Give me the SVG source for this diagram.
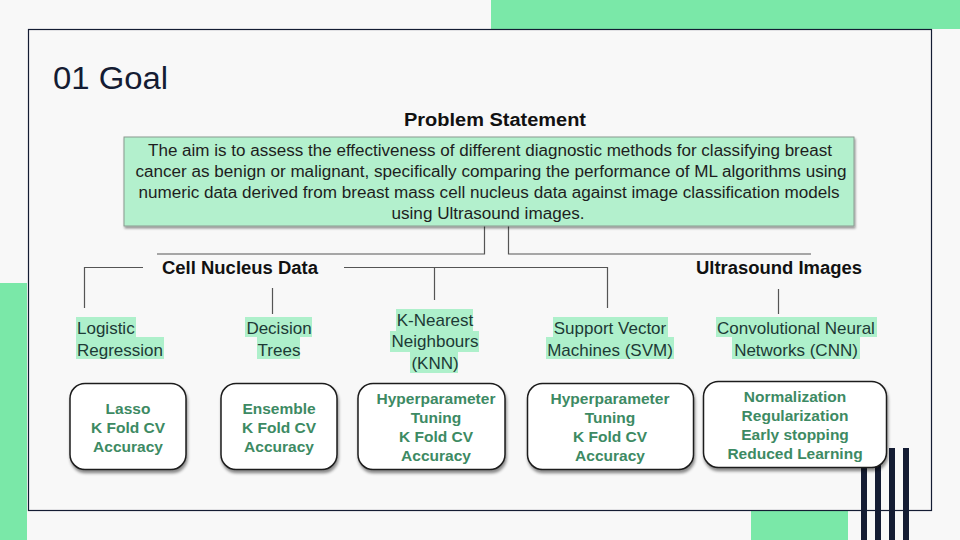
<svg xmlns="http://www.w3.org/2000/svg" width="960" height="540" viewBox="0 0 960 540">
<defs>
<filter id="sh" x="-10%" y="-10%" width="130%" height="140%">
<feDropShadow dx="1" dy="3" stdDeviation="1.5" flood-color="#000" flood-opacity="0.45"/>
</filter>
<filter id="sh2" x="-5%" y="-10%" width="110%" height="130%">
<feDropShadow dx="1" dy="2" stdDeviation="1" flood-color="#000" flood-opacity="0.4"/>
</filter>
</defs>
<style>
.sans{font-family:"Liberation Sans",Arial,sans-serif}
.title{font-family:"Liberation Sans",Arial,sans-serif;font-size:31px;fill:#141c33}
.head{font-family:"Liberation Sans",Arial,sans-serif;font-size:18px;font-weight:bold;fill:#111;text-anchor:middle}
.ps{font-family:"Liberation Sans",Arial,sans-serif;font-size:16px;fill:#1e1e1e;text-anchor:middle}
.lbl{font-family:"Liberation Sans",Arial,sans-serif;font-size:17px;fill:#1d3a36}
.mid{text-anchor:middle}
.hl{fill:#aef0cb}
.box{fill:#ffffff;stroke:#1c1c1c;stroke-width:1.5}
.bt{font-family:"Liberation Sans",Arial,sans-serif;font-size:15.5px;font-weight:bold;fill:#3d8a63;text-anchor:middle}
.con{fill:none;stroke:#555;stroke-width:1.2}
.bar{fill:#141c33}
</style>
<rect x="0" y="0" width="960" height="540" fill="#f8f8f8"/>
<rect x="491" y="0" width="469" height="29" fill="#7ae8a8"/>
<rect x="0" y="283" width="27" height="257" fill="#7ae8a8"/>
<rect x="751" y="511" width="97" height="29" fill="#7ae8a8"/>
<rect x="28.5" y="29.5" width="903" height="481" fill="none" stroke="#141c33" stroke-width="1.2"/>
<g id="bars">
<rect class="bar" x="861" y="448" width="6" height="92"/>
<rect class="bar" x="875" y="448" width="6" height="92"/>
<rect class="bar" x="889" y="448" width="6" height="92"/>
<rect class="bar" x="903" y="448" width="6" height="92"/>
</g>
<text class="title" x="53" y="89" textLength="115" lengthAdjust="spacingAndGlyphs">01 Goal</text>

<g id="connectors">
<path class="con" d="M484.5 226 V254 H157"/>
<path class="con" d="M508.5 226 V254 H811"/>
<path class="con" d="M143 267.5 H84.5 V308"/>
<path class="con" d="M344 267.5 H607.5 V308"/>
<path class="con" d="M434.5 267.5 V300"/>
<path class="con" d="M272.5 288 V314"/>
<path class="con" d="M778.5 289 V314"/>
</g>

<g id="problem">
<text class="head" x="495" y="126" textLength="182" lengthAdjust="spacingAndGlyphs">Problem Statement</text>
<rect x="124" y="137" width="730" height="89" fill="#b3f0cd" stroke="#8a9a90" stroke-width="1" filter="url(#sh2)"/>
<text class="ps" x="490" y="156" textLength="684" lengthAdjust="spacingAndGlyphs">The aim is to assess the effectiveness of different diagnostic methods for classifying breast</text>
<text class="ps" x="491" y="177" textLength="711" lengthAdjust="spacingAndGlyphs">cancer as benign or malignant, specifically comparing the performance of ML algorithms using</text>
<text class="ps" x="489" y="198" textLength="701" lengthAdjust="spacingAndGlyphs">numeric data derived from breast mass cell nucleus data against image classification models</text>
<text class="ps" x="488" y="219" textLength="193" lengthAdjust="spacingAndGlyphs">using Ultrasound images.</text>
</g>

<g id="cell-nucleus">
<text class="head" x="240" y="274" textLength="156" lengthAdjust="spacingAndGlyphs">Cell Nucleus Data</text>
</g>
<g id="ultrasound">
<text class="head" x="779" y="274" textLength="166" lengthAdjust="spacingAndGlyphs">Ultrasound Images</text>
</g>

<g id="logistic">
<rect class="hl" x="76" y="317" width="60" height="20"/>
<rect class="hl" x="76" y="337" width="88" height="22"/>
<text class="lbl" x="77" y="334">Logistic</text>
<text class="lbl" x="77" y="356">Regression</text>
</g>
<g id="decision">
<rect class="hl" x="245" y="317" width="67" height="20"/>
<rect class="hl" x="257" y="337" width="43" height="22"/>
<text class="lbl mid" x="279" y="334">Decision</text>
<text class="lbl mid" x="279" y="356">Trees</text>
</g>
<g id="knn">
<rect class="hl" x="396" y="309" width="77" height="22"/>
<rect class="hl" x="390" y="331" width="89" height="21"/>
<rect class="hl" x="410" y="352" width="48" height="21"/>
<text class="lbl mid" x="435" y="326">K-Nearest</text>
<text class="lbl mid" x="435" y="347">Neighbours</text>
<text class="lbl mid" x="435" y="369">(KNN)</text>
</g>
<g id="svm">
<rect class="hl" x="553" y="317" width="115" height="20"/>
<rect class="hl" x="546" y="337" width="128" height="22"/>
<text class="lbl mid" x="610" y="334">Support Vector</text>
<text class="lbl mid" x="610" y="356">Machines (SVM)</text>
</g>
<g id="cnn">
<rect class="hl" x="716" y="317" width="161" height="20"/>
<rect class="hl" x="732" y="337" width="128" height="22"/>
<text class="lbl mid" x="796" y="334">Convolutional Neural</text>
<text class="lbl mid" x="796" y="356">Networks (CNN)</text>
</g>

<g id="box-lasso">
<rect class="box" x="70" y="383.5" width="116" height="86" rx="15" filter="url(#sh)"/>
<text class="bt" x="128" y="414">Lasso</text>
<text class="bt" x="128" y="433">K Fold CV</text>
<text class="bt" x="128" y="452">Accuracy</text>
</g>
<g id="box-ensemble">
<rect class="box" x="221" y="383.5" width="116" height="86" rx="15" filter="url(#sh)"/>
<text class="bt" x="279" y="414">Ensemble</text>
<text class="bt" x="279" y="433">K Fold CV</text>
<text class="bt" x="279" y="452">Accuracy</text>
</g>
<g id="box-knn">
<rect class="box" x="358" y="383.5" width="147" height="86" rx="15" filter="url(#sh)"/>
<text class="bt" x="436" y="404">Hyperparameter</text>
<text class="bt" x="436" y="423">Tuning</text>
<text class="bt" x="436" y="442">K Fold CV</text>
<text class="bt" x="436" y="461">Accuracy</text>
</g>
<g id="box-svm">
<rect class="box" x="527.5" y="383.5" width="166" height="86" rx="15" filter="url(#sh)"/>
<text class="bt" x="610" y="404">Hyperparameter</text>
<text class="bt" x="610" y="423">Tuning</text>
<text class="bt" x="610" y="442">K Fold CV</text>
<text class="bt" x="610" y="461">Accuracy</text>
</g>
<g id="box-cnn">
<rect class="box" x="703.5" y="381.5" width="183" height="86" rx="15" filter="url(#sh)"/>
<text class="bt" x="795" y="402">Normalization</text>
<text class="bt" x="795" y="421">Regularization</text>
<text class="bt" x="795" y="440">Early stopping</text>
<text class="bt" x="795" y="459">Reduced Learning</text>
</g>
</svg>
